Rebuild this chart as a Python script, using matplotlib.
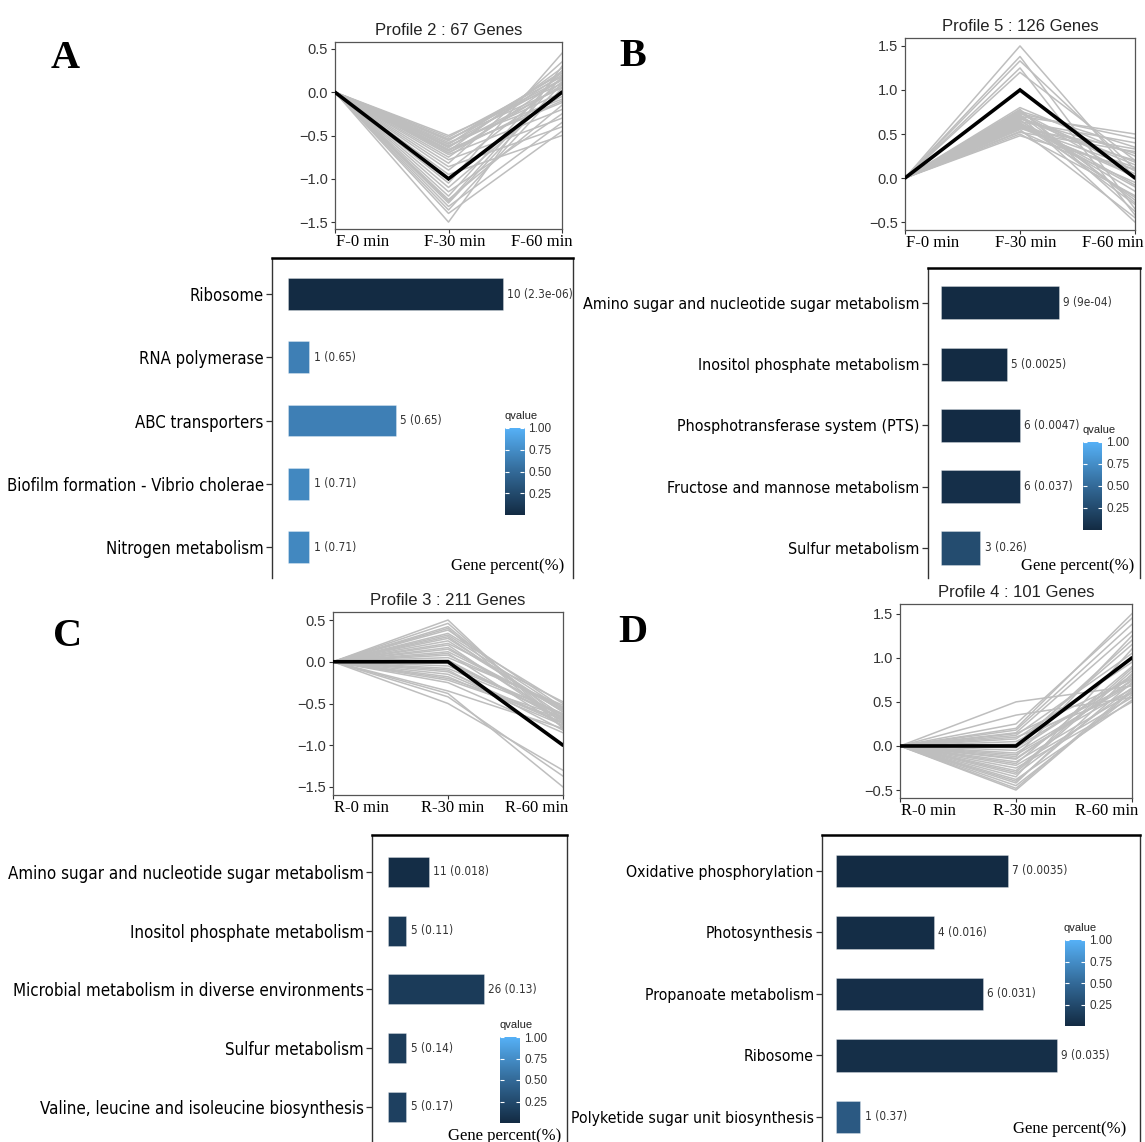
import numpy as np
import matplotlib
matplotlib.use("Agg")
import matplotlib.pyplot as plt
from matplotlib import font_manager as fm
from matplotlib.font_manager import FontProperties
from matplotlib.colors import LinearSegmentedColormap
from matplotlib.transforms import ScaledTranslation, blended_transform_factory

# ---------------- data ----------------
time_f = ["F-0 min", "F-30 min", "F-60 min"]
time_r = ["R-0 min", "R-30 min", "R-60 min"]

# profile 2 (67 genes): value at 30 min and 60 min for each gene (0 at start)
p2_mid = [-0.50, -0.52, -0.54, -0.56, -0.58, -0.60, -0.62, -0.64, -0.66, -0.68,
          -0.70, -0.72, -0.75, -0.78, -0.82, -0.86, -0.90, -0.95, -1.05, -1.10,
          -1.15, -1.20, -1.24, -1.28, -1.32, -1.36, -1.40, -1.50, -0.55, -0.63,
          -0.70, -1.26, -0.60, -0.67]
p2_end = [0.10, 0.18, 0.05, 0.22, -0.08, 0.14, 0.00, 0.20, -0.12, 0.28,
          0.08, -0.20, 0.16, -0.30, 0.35, -0.40, 0.12, -0.50, 0.45, 0.02,
          -0.25, 0.25, -0.15, 0.10, -0.35, 0.05, -0.45, 0.30, 0.15, 0.06,
          -0.05, 0.18, 0.24, -0.10]
p2_model = [0, -1, 0]

# profile 5 (126 genes)
p5_mid = [0.48, 0.50, 0.52, 0.55, 0.57, 0.60, 0.62, 0.64, 0.66, 0.68,
          0.70, 0.72, 0.74, 0.76, 0.78, 0.80, 0.53, 0.58, 0.63, 0.67,
          0.71, 0.75, 0.69, 0.61, 1.50, 1.38, 1.33, 1.25, 1.20, 0.56,
          0.65, 0.73, 0.59, 0.77]
p5_end = [0.10, -0.20, 0.30, -0.45, 0.05, 0.20, -0.10, 0.40, -0.30, 0.15,
          0.50, -0.25, 0.00, 0.35, -0.38, 0.25, -0.05, 0.12, -0.15, 0.28,
          -0.50, 0.08, 0.18, -0.22, 0.00, -0.35, 0.10, -0.42, 0.20, 0.33,
          -0.08, 0.45, 0.02, -0.28]
p5_model = [0, 1, 0]

# profile 3 (211 genes)
p3_mid = [0.50, 0.46, 0.42, 0.38, 0.34, 0.30, 0.25, 0.20, 0.15, 0.10,
          0.05, 0.00, -0.05, -0.10, -0.15, -0.20, -0.25, 0.22, 0.12, 0.02,
          -0.08, -0.18, 0.28, 0.08, -0.38, -0.42, -0.50, -0.35, 0.17, -0.12,
          0.32, -0.02, 0.40, -0.22]
p3_end = [-0.80, -0.75, -0.70, -0.55, -0.50, -0.65, -0.60, -0.72, -0.58, -0.78,
          -0.52, -0.68, -0.62, -0.82, -0.74, -0.66, -0.85, -0.48, -0.56, -0.70,
          -0.64, -0.76, -0.60, -0.54, -1.50, -1.37, -1.30, -0.80, -0.67, -0.73,
          -0.57, -0.63, -0.79, -0.69]
p3_model = [0, 0, -1]

# profile 4 (101 genes)
p4_mid = [0.50, 0.35, 0.25, 0.20, 0.15, 0.10, 0.05, 0.00, -0.05, -0.10,
          -0.15, -0.20, -0.25, -0.30, -0.35, -0.40, -0.45, -0.50, 0.18, 0.08,
          -0.02, -0.12, -0.22, -0.32, -0.42, 0.12, -0.08, -0.18, -0.28, -0.38,
          0.02, -0.48, 0.14, -0.14]
p4_end = [0.68, 0.55, 1.45, 1.50, 1.30, 0.60, 0.70, 1.20, 0.80, 0.65,
          0.75, 0.90, 0.50, 0.85, 1.10, 0.72, 0.58, 0.62, 1.38, 0.95,
          0.78, 1.25, 0.55, 0.66, 0.82, 1.05, 0.70, 0.60, 0.88, 0.52,
          1.15, 0.64, 0.76, 0.74]
p4_model = [0, 0, 1]

# KEGG enrichment per profile
a_terms = ["Ribosome", "RNA polymerase", "ABC transporters",
           "Biofilm formation - Vibrio cholerae", "Nitrogen metabolism"]
a_counts = [10, 1, 5, 1, 1]
a_q = ["2.3e-06", "0.65", "0.65", "0.71", "0.71"]
a_total = 67

b_terms = ["Amino sugar and nucleotide sugar metabolism", "Inositol phosphate metabolism",
           "Phosphotransferase system (PTS)", "Fructose and mannose metabolism",
           "Sulfur metabolism"]
b_counts = [9, 5, 6, 6, 3]
b_q = ["9e-04", "0.0025", "0.0047", "0.037", "0.26"]
b_total = 126

c_terms = ["Amino sugar and nucleotide sugar metabolism", "Inositol phosphate metabolism",
           "Microbial metabolism in diverse environments", "Sulfur metabolism",
           "Valine, leucine and isoleucine biosynthesis"]
c_counts = [11, 5, 26, 5, 5]
c_q = ["0.018", "0.11", "0.13", "0.14", "0.17"]
c_total = 211

d_terms = ["Oxidative phosphorylation", "Photosynthesis", "Propanoate metabolism",
           "Ribosome", "Polyketide sugar unit biosynthesis"]
d_counts = [7, 4, 6, 9, 1]
d_q = ["0.0035", "0.016", "0.031", "0.035", "0.37"]
d_total = 101

# ---------------- fonts ----------------
W, H = 1145, 1142
avail = {f.name for f in fm.fontManager.ttflist}
SANS = "Liberation Sans" if "Liberation Sans" in avail else "DejaVu Sans"
SERIF = "Liberation Serif" if "Liberation Serif" in avail else "DejaVu Serif"

_stretch_rank = {"ultra-condensed": 100, "extra-condensed": 200, "condensed": 300,
                 "semi-condensed": 400, "normal": 500}


def _narrowest_sans():
    """Regular-weight sans face with the tightest width class available."""
    best = None
    for f in fm.fontManager.ttflist:
        name = f.name
        if any(k in name for k in ("Serif", "Mono", "CJK", "Math", "Display")):
            continue
        if f.style != "normal":
            continue
        w = f.weight if isinstance(f.weight, int) else {"normal": 400, "regular": 400}.get(f.weight, 0)
        if w != 400:
            continue
        st = f.stretch
        rank = st if isinstance(st, int) else _stretch_rank.get(st, 500)
        if "Narrow" in name or "Condensed" in name:
            rank = min(rank, 300)
        if best is None or rank < best[0]:
            best = (rank, f.fname)
    if best is None or best[0] >= 500:
        return FontProperties(family="DejaVu Sans")
    return FontProperties(fname=best[1])


NARROW_FP = _narrowest_sans()

# ggplot-style continuous blue scale for q-values
qcmap = LinearSegmentedColormap.from_list(
    "q", [(0.0, "#132B43"), (0.5, "#336A98"), (1.0, "#56B1F7")])
GREY = "#BEBEBE"

fig = plt.figure(figsize=(W / 100, H / 100), dpi=100)
fig.patch.set_facecolor("white")


def px_axes(l, t, r, b):
    return fig.add_axes([l / W, 1 - b / H, (r - l) / W, (b - t) / H])


def shift(dx_px, dy_px=0):
    """Offset in pixels; positive dy moves downwards."""
    return ScaledTranslation(dx_px / 100, -dy_px / 100, fig.dpi_scale_trans)


def profile(box, mid, end, model, ylim, yticks, xlabels, title, last_dx, mid_dx):
    ax = px_axes(*box)
    for m, e in zip(mid, end):
        ax.plot([0, 1, 2], [0, m, e], color=GREY, lw=1.1, zorder=1)
    ax.plot([0, 1, 2], model, color="black", lw=2.6, zorder=3,
            solid_capstyle="round", solid_joinstyle="miter")
    ax.set_xlim(0, 2)
    ax.set_ylim(*ylim)
    ax.set_yticks(yticks)
    ax.set_yticklabels([f"{v:.1f}".replace("-", "\u2212") for v in yticks],
                       family=SANS, fontsize=10.5, color="#333333")
    ax.set_xticks([0, 1, 2])
    ax.set_xticklabels([])
    tr = blended_transform_factory(ax.transData, ax.transAxes)
    specs = [("left", 1), ("center", mid_dx), ("left", last_dx)]
    for i, (lab, (ha, dx)) in enumerate(zip(xlabels, specs)):
        ax.text(i, 0, lab, transform=tr + shift(dx, 5), ha=ha, va="top",
                family=SERIF, fontsize=12, color="black", clip_on=False)
    ax.tick_params(length=3, width=0.8, color="#333333", pad=2)
    for s in ax.spines.values():
        s.set_color("#555555")
        s.set_linewidth(0.9)
    ax.set_title(title, family=SANS, fontsize=12, color="#222222", pad=5)
    return ax


def enrichment(box, terms, counts, qs, total, xlim, ylim, target_w, bar_h,
               gp_xy, cbar_box):
    ax = px_axes(*box)
    perc = [c / total * 100 for c in counts]
    qv = [float(q) for q in qs]
    y = np.arange(len(terms))
    ax.barh(y, perc, height=bar_h, color=[qcmap(v) for v in qv],
            edgecolor=(1, 1, 1, 0.35), linewidth=0.6, zorder=2)
    for yi, p, c, q in zip(y, perc, counts, qs):
        ax.annotate(f"{c} ({q})", (p, yi), xytext=(3, 0), textcoords="offset points",
                    va="center", ha="left", fontproperties=NARROW_FP, fontsize=8.5,
                    color="#333333")
    ax.set_xlim(*xlim)
    ax.set_ylim(*ylim)
    ax.set_yticks(y)
    ax.set_yticklabels(terms, fontproperties=NARROW_FP, color="black")
    for t in ax.get_yticklabels():
        t.set_fontsize(18)
    ax.set_xticks([])
    ax.tick_params(axis="y", length=4, width=0.9, color="#333333", pad=2)
    ax.spines["bottom"].set_visible(False)
    for k in ("left", "right"):
        ax.spines[k].set_linewidth(1.0)
        ax.spines[k].set_color("#333333")
    ax.spines["top"].set_linewidth(1.8)
    ax.spines["top"].set_color("black")
    fig.text(gp_xy[0] / W, 1 - gp_xy[1] / H, "Gene percent(%)", family=SERIF,
             fontsize=12, ha="center", va="center", color="black")
    # colour bar for q-values
    l, t, r, b = cbar_box
    cax = px_axes(l, t, r, b)
    cax.imshow(np.linspace(0, 1, 256)[:, None], aspect="auto", cmap=qcmap,
               origin="lower", extent=[0, 1, 0, 1])
    cax.set_xticks([])
    cax.set_yticks([0.25, 0.50, 0.75, 1.00])
    cax.set_yticklabels(["0.25", "0.50", "0.75", "1.00"], family=SANS, fontsize=8.5,
                        color="#333333")
    cax.tick_params(axis="y", left=True, right=True, labelleft=False, labelright=True,
                    direction="in", length=3, width=0.8, color="white", pad=3)
    for s in cax.spines.values():
        s.set_visible(False)
    cax.text(-0.05, 1.0, "qvalue", transform=cax.transAxes + shift(0, -7),
             family=SANS, fontsize=8, ha="left", va="bottom", color="#222222")
    return ax, target_w


# ---------- panel A ----------
profile((335, 42, 562, 229), p2_mid, p2_end, p2_model, (-1.58, 0.58),
        [-1.5, -1.0, -0.5, 0.0, 0.5], time_f, "Profile 2 : 67 Genes", -51, 6)
bars = []
bars.append(enrichment((272, 258, 573, 578), a_terms, a_counts, a_q, a_total,
                       (-1.11, 19.78), (4.49, -0.57), 256, 0.5, (508, 566),
                       (505, 428, 524, 515)))

# ---------- panel B ----------
profile((905, 38, 1135, 230), p5_mid, p5_end, p5_model, (-0.59, 1.59),
        [-0.5, 0.0, 0.5, 1.0, 1.5], time_f, "Profile 5 : 126 Genes", -53, 6)
bars.append(enrichment((928, 268, 1140, 578), b_terms, b_counts, b_q, b_total,
                       (-0.79, 12.05), (4.49, -0.57), 337, 0.54, (1078, 566),
                       (1083, 442, 1102, 530)))

# ---------- panel C ----------
profile((333, 612, 563, 795), p3_mid, p3_end, p3_model, (-1.596, 0.596),
        [-1.5, -1.0, -0.5, 0.0, 0.5], time_r, "Profile 3 : 211 Genes", -58, 5)
bars.append(enrichment((372, 835, 567, 1142), c_terms, c_counts, c_q, c_total,
                       (-2.05, 22.98), (4.6, -0.63), 354, 0.51, (505, 1136),
                       (500, 1037, 520, 1123)))

# ---------- panel D ----------
profile((900, 604, 1132, 798), p4_mid, p4_end, p4_model, (-0.59, 1.61),
        [-0.5, 0.0, 0.5, 1.0, 1.5], time_r, "Profile 4 : 101 Genes", -57, 9)
bars.append(enrichment((822, 835, 1140, 1142), d_terms, d_counts, d_q, d_total,
                       (-0.56, 12.26), (4.41, -0.585), 242, 0.53, (1070, 1129),
                       (1065, 940, 1085, 1026)))

# size the pathway labels so the longest one fills its margin
fig.canvas.draw()
renderer = fig.canvas.get_renderer()
for ax, target in bars:
    labs = ax.get_yticklabels()
    widest = max(t.get_window_extent(renderer).width for t in labs)
    size = min(24, 18 * target / widest)
    for t in labs:
        t.set_fontsize(size)

# panel letters
for letter, (x, y) in {"A": (65, 58), "B": (633, 57), "C": (68, 637), "D": (633, 632)}.items():
    fig.text(x / W, 1 - y / H, letter, family=SERIF, fontsize=29, fontweight="bold",
             ha="center", va="center", color="black")

fig.savefig("out.png", dpi=100, facecolor="white")
